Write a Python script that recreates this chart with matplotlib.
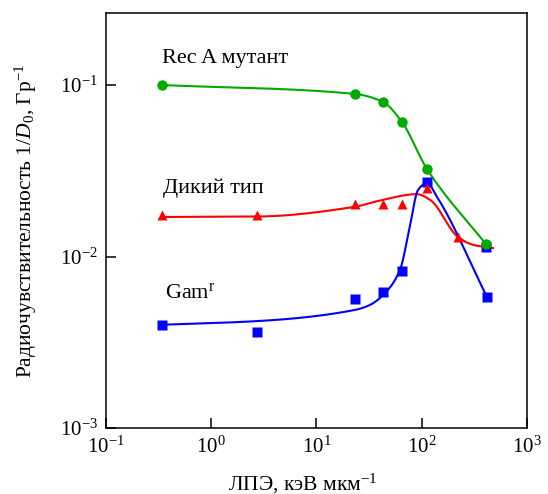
import numpy as np
import matplotlib
matplotlib.use("Agg")
import matplotlib.pyplot as plt

plt.rcParams['font.family'] = ['Liberation Serif', 'DejaVu Serif']
plt.rcParams['mathtext.fontset'] = 'custom'
plt.rcParams['mathtext.rm'] = 'Liberation Serif'
plt.rcParams['mathtext.it'] = 'Liberation Serif:italic'

# measured points
rec_x = [0.34, 23.2, 42.9, 64.9, 112, 407]
rec_y = [0.100, 0.0887, 0.0796, 0.0608, 0.0324, 0.0118]

wild_x = [0.34, 2.72, 23.2, 42.9, 64.9, 112, 221]
wild_y = [0.0175, 0.0175, 0.0202, 0.0202, 0.0202, 0.0251, 0.0130]

gam_x = [0.34, 2.72, 23.2, 42.9, 64.9, 112, 407, 420]
gam_y = [0.0040, 0.00365, 0.00565, 0.00621, 0.00822, 0.0272, 0.01135, 0.0058]

# fitted curves (nodes)
rec_cx = [0.34, 23.2, 42.9, 64.9, 112, 407]
rec_cy = [0.100, 0.0887, 0.0796, 0.0608, 0.0324, 0.0118]

wild_cx = [0.34, 2.72, 23.2, 40, 90, 120, 221, 307, 475]
wild_cy = [0.0170, 0.0171, 0.0195, 0.0212, 0.0231, 0.0214, 0.0130, 0.0117, 0.0112]

gam_cx = [0.34, 2.72, 23.2, 32, 44.8, 62, 77, 92, 112, 140, 417]
gam_cy = [0.0040, 0.0042, 0.00488, 0.00521, 0.00612, 0.00834, 0.0149, 0.0244, 0.0268, 0.0222, 0.0058]


def pchip(x, y, xn):
    # monotone cubic hermite
    x = np.asarray(x, float)
    y = np.asarray(y, float)
    h = np.diff(x)
    d = np.diff(y) / h
    m = np.zeros_like(x)
    for k in range(1, len(x) - 1):
        if d[k - 1] * d[k] > 0:
            w1 = 2 * h[k] + h[k - 1]
            w2 = h[k] + 2 * h[k - 1]
            m[k] = (w1 + w2) / (w1 / d[k - 1] + w2 / d[k])
    m[0] = d[0]
    m[-1] = d[-1]
    i = np.clip(np.searchsorted(x, xn) - 1, 0, len(x) - 2)
    t = (xn - x[i]) / h[i]
    h00 = 2 * t**3 - 3 * t**2 + 1
    h10 = t**3 - 2 * t**2 + t
    h01 = -2 * t**3 + 3 * t**2
    h11 = t**3 - t**2
    return h00 * y[i] + h10 * h[i] * m[i] + h01 * y[i + 1] + h11 * h[i] * m[i + 1]


def curve(cx, cy):
    lx = np.log10(cx)
    ly = np.log10(cy)
    xx = np.linspace(lx[0], lx[-1], 400)
    return 10**xx, 10**pchip(lx, ly, xx)


green = '#00aa00'
red = '#ff0000'
blue = '#0000ff'

fig = plt.figure(figsize=(5.48, 4.94), dpi=100)
ax = fig.add_axes([0.1934, 0.1336, 0.7683, 0.8401])

for cx, cy, c in [(rec_cx, rec_cy, green), (wild_cx, wild_cy, red), (gam_cx, gam_cy, blue)]:
    xs, ys = curve(cx, cy)
    ax.plot(xs, ys, color=c, lw=1.5, zorder=2)

ax.plot(gam_x, gam_y, 's', color=blue, ms=7, mec='none', zorder=3)
ax.plot(wild_x, wild_y, '^', color=red, ms=7.5, mec='none', zorder=4)
ax.plot(rec_x, rec_y, 'o', color=green, ms=7.5, mec='none', zorder=5)

ax.set_xscale('log')
ax.set_yscale('log')
ax.set_xlim(0.1, 1000)
ax.set_ylim(0.001, 10**-0.58)

ax.set_xticks([0.1, 1, 10, 100, 1000])
ax.set_xticklabels([r'$10^{-1}$', r'$10^{0}$', r'$10^{1}$', r'$10^{2}$', r'$10^{3}$'])
ax.set_yticks([0.001, 0.01, 0.1])
ax.set_yticklabels([r'$10^{-3}$', r'$10^{-2}$', r'$10^{-1}$'])
ax.minorticks_off()
ax.tick_params(direction='in', length=7, width=1.1, labelsize=15, pad=6)
for s in ax.spines.values():
    s.set_linewidth(1.1)

ax.set_xlabel(r'ЛПЭ, кэВ мкм$^{-1}$', fontsize=15.5, labelpad=10, x=0.468)
ax.set_ylabel(r'Радиочувствительность 1/$D_0$, Гр$^{-1}$', fontsize=15.5, labelpad=15)

ax.text(0.34, 0.134, 'Rec A мутант', fontsize=16)
ax.text(0.35, 0.0235, 'Дикий тип', fontsize=16)
ax.text(0.36, 0.0057, r'Gam$^{\mathrm{r}}$', fontsize=16)

fig.savefig('out.png', dpi=100)
